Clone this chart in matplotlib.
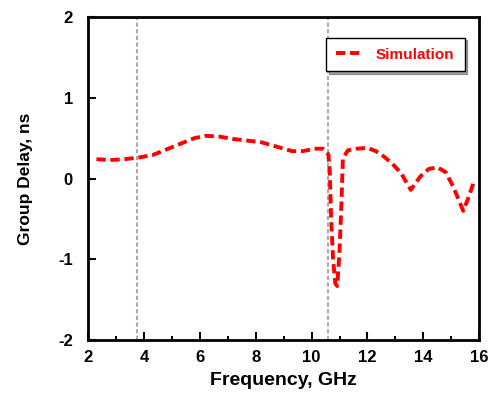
import matplotlib
matplotlib.use('Agg')
import matplotlib.pyplot as plt
from matplotlib.ticker import MultipleLocator

plt.rcParams['font.family'] = ['Liberation Sans', 'DejaVu Sans']
plt.rcParams['font.weight'] = 'bold'
plt.rcParams['axes.unicode_minus'] = False

freq = [2.3, 2.8, 3.3, 3.8, 4.3, 4.8, 5.3, 5.8, 6.2, 6.7, 7.2, 7.7, 8.2, 8.8,
        9.3, 9.7, 10.1, 10.4, 10.6, 10.65, 10.7, 10.77, 10.85, 10.92, 11.0,
        11.07, 11.12, 11.3, 11.6, 12.0, 12.3, 12.6, 12.9, 13.2, 13.55, 13.9,
        14.2, 14.5, 14.8, 15.07, 15.25, 15.43, 15.6, 15.8]
delay = [0.24, 0.23, 0.24, 0.26, 0.29, 0.36, 0.43, 0.50, 0.53, 0.52, 0.49, 0.47, 0.45, 0.39,
         0.34, 0.34, 0.37, 0.37, 0.30, 0.10, -0.50, -1.00, -1.30, -1.33, -0.90,
         -0.30, 0.25, 0.35, 0.37, 0.38, 0.34, 0.27, 0.18, 0.07, -0.14, 0.03,
         0.12, 0.14, 0.08, -0.10, -0.25, -0.40, -0.25, -0.05]
markers = [3.75, 10.6]

fig = plt.figure(figsize=(4.92, 3.96), dpi=100)
ax = fig.add_axes([0.179, 0.141, 0.795, 0.816])

for xv in markers:
    ax.axvline(xv, color='#aaaaaa', lw=1.5, ls=(0, (2, 1.2)), zorder=1)

ax.plot(freq, delay, color='red', lw=2.8, dashes=(2.4, 1.2), label='Simulation', zorder=2)

ax.set_xlim(2, 16)
ax.set_ylim(-2, 2)
ax.xaxis.set_major_locator(MultipleLocator(2))
ax.xaxis.set_minor_locator(MultipleLocator(1))
ax.yaxis.set_major_locator(MultipleLocator(1))
ax.tick_params(which='major', direction='in', length=6, width=1.5, labelsize=12)
ax.tick_params(axis='x', pad=7)
ax.tick_params(axis='y', pad=11)
ax.tick_params(which='minor', direction='in', length=3, width=1.5)
for s in ax.spines.values():
    s.set_linewidth(2)

ax.set_xlabel('Frequency, GHz', fontsize=14, fontweight='bold', labelpad=5)
ax.set_ylabel('Group Delay, ns', fontsize=12.5, fontweight='bold', labelpad=18)

leg = ax.legend(loc='upper right', bbox_to_anchor=(0.982, 0.96), fancybox=False,
                shadow=True, framealpha=1, edgecolor='black', handlelength=1.8,
                fontsize=11, borderpad=0.65)
leg.get_frame().set_linewidth(1)
for t in leg.get_texts():
    t.set_color('red')

fig.savefig('out.png', dpi=100)
